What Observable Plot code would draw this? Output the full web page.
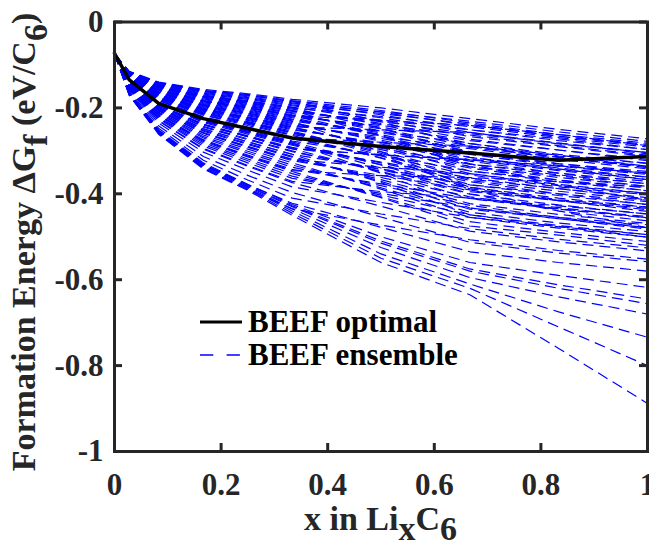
<!DOCTYPE html>
<html><head><meta charset="utf-8">
<script src="https://cdn.jsdelivr.net/npm/d3@7"></script>
<script src="https://cdn.jsdelivr.net/npm/@observablehq/plot@0.6"></script>
<style>
html,body{margin:0;padding:0;background:#fff;}
#chart{position:relative;width:649px;height:549px;overflow:hidden;}
</style></head><body><div id="chart"></div>
<script>
// Li fraction x in LixC6 at which the energies were computed
const xValues = [0, 0.0278, 0.0833, 0.1667, 0.25, 0.3333, 0.5, 0.6667, 0.8333, 1];
// BEEF optimal formation energy (eV/C6)
const optimal = [-0.073, -0.135, -0.190, -0.225, -0.248, -0.270, -0.290, -0.305, -0.322, -0.313];
// BEEF ensemble members (eV/C6), one row per member
const ensemble = [
  [-0.074,-0.115,-0.140,-0.157,-0.167,-0.180,-0.200,-0.225,-0.250,-0.272],
  [-0.074,-0.116,-0.142,-0.161,-0.171,-0.185,-0.210,-0.241,-0.266,-0.288],
  [-0.074,-0.117,-0.145,-0.164,-0.176,-0.190,-0.209,-0.231,-0.256,-0.278],
  [-0.074,-0.118,-0.147,-0.168,-0.180,-0.195,-0.223,-0.257,-0.282,-0.304],
  [-0.074,-0.119,-0.150,-0.172,-0.185,-0.200,-0.220,-0.244,-0.269,-0.291],
  [-0.074,-0.121,-0.152,-0.175,-0.189,-0.206,-0.236,-0.273,-0.298,-0.320],
  [-0.074,-0.122,-0.154,-0.179,-0.194,-0.211,-0.229,-0.251,-0.276,-0.297],
  [-0.074,-0.123,-0.157,-0.183,-0.198,-0.216,-0.249,-0.289,-0.314,-0.336],
  [-0.074,-0.124,-0.159,-0.186,-0.203,-0.221,-0.241,-0.263,-0.288,-0.310],
  [-0.074,-0.125,-0.162,-0.190,-0.207,-0.226,-0.262,-0.305,-0.330,-0.352],
  [-0.074,-0.126,-0.164,-0.194,-0.212,-0.231,-0.255,-0.283,-0.308,-0.329],
  [-0.074,-0.127,-0.166,-0.197,-0.216,-0.236,-0.275,-0.321,-0.346,-0.367],
  [-0.074,-0.128,-0.169,-0.201,-0.221,-0.241,-0.267,-0.295,-0.320,-0.342],
  [-0.074,-0.129,-0.171,-0.205,-0.225,-0.246,-0.288,-0.337,-0.362,-0.383],
  [-0.074,-0.130,-0.174,-0.208,-0.229,-0.251,-0.281,-0.315,-0.340,-0.361],
  [-0.074,-0.132,-0.176,-0.212,-0.234,-0.257,-0.302,-0.353,-0.378,-0.399],
  [-0.074,-0.133,-0.178,-0.216,-0.238,-0.262,-0.294,-0.331,-0.356,-0.377],
  [-0.074,-0.134,-0.182,-0.221,-0.245,-0.269,-0.316,-0.369,-0.394,-0.415],
  [-0.074,-0.136,-0.186,-0.227,-0.252,-0.277,-0.310,-0.347,-0.372,-0.393],
  [-0.074,-0.138,-0.189,-0.232,-0.258,-0.285,-0.332,-0.385,-0.410,-0.431],
  [-0.074,-0.139,-0.193,-0.238,-0.265,-0.292,-0.326,-0.363,-0.388,-0.409],
  [-0.074,-0.141,-0.196,-0.243,-0.272,-0.300,-0.348,-0.401,-0.426,-0.447],
  [-0.074,-0.143,-0.200,-0.249,-0.279,-0.308,-0.342,-0.379,-0.404,-0.425],
  [-0.074,-0.144,-0.204,-0.254,-0.285,-0.315,-0.367,-0.423,-0.448,-0.469],
  [-0.074,-0.146,-0.207,-0.259,-0.292,-0.323,-0.357,-0.391,-0.416,-0.437],
  [-0.074,-0.148,-0.212,-0.267,-0.301,-0.333,-0.386,-0.443,-0.468,-0.488],
  [-0.074,-0.150,-0.217,-0.274,-0.310,-0.343,-0.377,-0.411,-0.436,-0.456],
  [-0.074,-0.152,-0.222,-0.281,-0.319,-0.353,-0.407,-0.465,-0.490,-0.511],
  [-0.074,-0.155,-0.226,-0.289,-0.328,-0.364,-0.399,-0.433,-0.458,-0.479],
  [-0.074,-0.157,-0.231,-0.296,-0.336,-0.374,-0.429,-0.487,-0.512,-0.533],
  [-0.074,-0.159,-0.236,-0.303,-0.345,-0.384,-0.420,-0.455,-0.480,-0.501],
  [-0.074,-0.162,-0.242,-0.313,-0.357,-0.397,-0.454,-0.513,-0.538,-0.558],
  [-0.074,-0.165,-0.248,-0.322,-0.368,-0.410,-0.447,-0.481,-0.506,-0.526],
  [-0.074,-0.167,-0.254,-0.331,-0.379,-0.422,-0.478,-0.535,-0.560,-0.580],
  [-0.074,-0.170,-0.260,-0.340,-0.390,-0.435,-0.473,-0.507,-0.532,-0.552],
  [-0.074,-0.143,-0.200,-0.249,-0.279,-0.308,-0.374,-0.449,-0.474,-0.495],
  [-0.074,-0.132,-0.176,-0.212,-0.234,-0.257,-0.310,-0.390,-0.440,-0.479],
  [-0.074,-0.151,-0.218,-0.276,-0.312,-0.346,-0.358,-0.362,-0.372,-0.385],
  [-0.074,-0.123,-0.158,-0.184,-0.200,-0.218,-0.265,-0.330,-0.380,-0.415],
  [-0.074,-0.140,-0.194,-0.239,-0.267,-0.295,-0.310,-0.320,-0.335,-0.352],
  [-0.074,-0.156,-0.230,-0.294,-0.334,-0.371,-0.395,-0.410,-0.428,-0.447],
  [-0.074,-0.137,-0.188,-0.230,-0.256,-0.282,-0.340,-0.400,-0.440,-0.463],
  [-0.074,-0.116,-0.141,-0.159,-0.169,-0.183,-0.206,-0.235,-0.262,-0.282],
  [-0.074,-0.117,-0.144,-0.162,-0.174,-0.188,-0.216,-0.251,-0.272,-0.297],
  [-0.074,-0.118,-0.146,-0.166,-0.178,-0.193,-0.213,-0.238,-0.266,-0.285],
  [-0.074,-0.119,-0.148,-0.170,-0.183,-0.198,-0.229,-0.267,-0.290,-0.313],
  [-0.074,-0.120,-0.151,-0.173,-0.187,-0.203,-0.239,-0.283,-0.312,-0.329],
  [-0.074,-0.121,-0.153,-0.177,-0.192,-0.208,-0.232,-0.260,-0.282,-0.307],
  [-0.074,-0.122,-0.156,-0.181,-0.196,-0.213,-0.254,-0.302,-0.330,-0.348],
  [-0.074,-0.123,-0.158,-0.184,-0.200,-0.218,-0.245,-0.276,-0.298,-0.323],
  [-0.074,-0.124,-0.160,-0.188,-0.205,-0.223,-0.265,-0.315,-0.344,-0.361],
  [-0.074,-0.125,-0.163,-0.192,-0.209,-0.228,-0.258,-0.292,-0.315,-0.339],
  [-0.074,-0.127,-0.165,-0.195,-0.214,-0.234,-0.278,-0.331,-0.352,-0.377],
  [-0.074,-0.128,-0.168,-0.199,-0.218,-0.239,-0.271,-0.308,-0.336,-0.355],
  [-0.074,-0.129,-0.170,-0.203,-0.223,-0.244,-0.291,-0.347,-0.368,-0.393],
  [-0.074,-0.130,-0.172,-0.206,-0.227,-0.249,-0.284,-0.324,-0.352,-0.371],
  [-0.074,-0.131,-0.175,-0.210,-0.232,-0.254,-0.306,-0.366,-0.388,-0.412],
  [-0.074,-0.132,-0.177,-0.214,-0.236,-0.259,-0.297,-0.340,-0.368,-0.386],
  [-0.074,-0.133,-0.180,-0.217,-0.241,-0.264,-0.317,-0.379,-0.400,-0.425],
  [-0.074,-0.135,-0.183,-0.223,-0.247,-0.272,-0.312,-0.356,-0.384,-0.402],
  [-0.074,-0.136,-0.187,-0.228,-0.254,-0.279,-0.333,-0.395,-0.416,-0.441],
  [-0.074,-0.138,-0.190,-0.234,-0.261,-0.287,-0.328,-0.372,-0.400,-0.418],
  [-0.074,-0.140,-0.194,-0.239,-0.267,-0.295,-0.349,-0.411,-0.432,-0.456],
  [-0.074,-0.141,-0.198,-0.245,-0.274,-0.302,-0.344,-0.388,-0.416,-0.434],
  [-0.074,-0.144,-0.202,-0.252,-0.283,-0.313,-0.371,-0.436,-0.458,-0.482],
  [-0.074,-0.145,-0.206,-0.258,-0.290,-0.320,-0.362,-0.407,-0.435,-0.453],
  [-0.074,-0.147,-0.210,-0.263,-0.296,-0.328,-0.389,-0.455,-0.476,-0.501],
  [-0.074,-0.149,-0.214,-0.270,-0.305,-0.338,-0.381,-0.427,-0.455,-0.472],
  [-0.074,-0.151,-0.219,-0.278,-0.314,-0.348,-0.409,-0.475,-0.496,-0.520],
  [-0.074,-0.154,-0.224,-0.285,-0.323,-0.359,-0.403,-0.449,-0.477,-0.495],
  [-0.074,-0.116,-0.142,-0.161,-0.171,-0.185,-0.232,-0.289,-0.318,-0.336],
  [-0.074,-0.121,-0.152,-0.175,-0.189,-0.206,-0.265,-0.337,-0.358,-0.383],
  [-0.074,-0.126,-0.164,-0.194,-0.212,-0.231,-0.302,-0.385,-0.414,-0.431],
  [-0.074,-0.134,-0.182,-0.221,-0.245,-0.269,-0.280,-0.289,-0.310,-0.336],
  [-0.074,-0.129,-0.170,-0.203,-0.223,-0.244,-0.251,-0.257,-0.284,-0.304],
  [-0.074,-0.140,-0.194,-0.239,-0.267,-0.295,-0.309,-0.321,-0.342,-0.367],
  [-0.074,-0.145,-0.206,-0.258,-0.290,-0.320,-0.338,-0.353,-0.381,-0.399],
  [-0.074,-0.123,-0.158,-0.184,-0.200,-0.218,-0.229,-0.241,-0.262,-0.288],
  [-0.074,-0.119,-0.150,-0.172,-0.185,-0.200,-0.248,-0.305,-0.334,-0.352],
  [-0.074,-0.137,-0.188,-0.230,-0.256,-0.282,-0.352,-0.433,-0.455,-0.479],
  [-0.074,-0.165,-0.252,-0.328,-0.378,-0.425,-0.500,-0.560,-0.590,-0.618],
  [-0.074,-0.166,-0.254,-0.331,-0.381,-0.428,-0.510,-0.575,-0.612,-0.645],
  [-0.074,-0.167,-0.255,-0.333,-0.383,-0.430,-0.515,-0.580,-0.620,-0.656],
  [-0.074,-0.168,-0.257,-0.335,-0.385,-0.435,-0.525,-0.595,-0.640,-0.680],
  [-0.074,-0.169,-0.258,-0.337,-0.387,-0.440,-0.540,-0.610,-0.675,-0.734],
  [-0.074,-0.170,-0.260,-0.340,-0.390,-0.445,-0.550,-0.620,-0.710,-0.800],
  [-0.074,-0.171,-0.262,-0.342,-0.392,-0.450,-0.560,-0.635,-0.760,-0.888]
];
const xTicks = [0, 0.2, 0.4, 0.6, 0.8, 1];
const yTicks = [-1, -0.8, -0.6, -0.4, -0.2, 0];
const legendLabels = ["BEEF optimal", "BEEF ensemble"];

const W = 649, H = 549, mL = 114, mR = 2, mT = 21.5, mB = 98;
const plotW = W - mL - mR, plotH = H - mT - mB;
const FONT = "'Liberation Serif','Times New Roman',Times,serif";
const AX = "#262626";

const optRows = xValues.map((x, j) => ({x, y: optimal[j]}));
const ensRows = ensemble.flatMap((vals, i) => vals.map((v, j) => ({member: i, x: xValues[j], y: v})));

const chart = Plot.plot({
  width: W, height: H,
  marginLeft: mL, marginRight: mR, marginTop: mT, marginBottom: mB,
  style: {fontFamily: FONT, fontWeight: "bold", fontSize: "31px", color: AX, background: "#fff", overflow: "visible"},
  x: {domain: [0, 1]},
  y: {domain: [-1, 0]},
  marks: [
    Plot.line(ensRows, {x: "x", y: "y", z: "member", stroke: "#0000ff", strokeWidth: 1.2,
      strokeDasharray: "11,6", strokeLinecap: "butt", strokeLinejoin: "miter"}),
    Plot.line(optRows, {x: "x", y: "y", stroke: "#000", strokeWidth: 3.5}),
    Plot.frame({stroke: AX, strokeWidth: 3}),
    Plot.tickX(xTicks, {x: d => d, stroke: AX, strokeWidth: 3, insetTop: plotH - 8}),
    Plot.tickX(xTicks, {x: d => d, stroke: AX, strokeWidth: 3, insetBottom: plotH - 8}),
    Plot.tickY(yTicks, {y: d => d, stroke: AX, strokeWidth: 3, insetRight: plotW - 8}),
    Plot.tickY(yTicks, {y: d => d, stroke: AX, strokeWidth: 3, insetLeft: plotW - 8}),
    Plot.axisX({ticks: xTicks, tickSize: 0, tickPadding: 21, tickFormat: d => String(d), label: null, fontSize: 31, fill: AX}),
    Plot.axisY({ticks: yTicks, tickSize: 0, tickPadding: 11, tickFormat: d => String(d), label: null, fontSize: 31, fill: AX})
  ]
});
document.getElementById("chart").appendChild(chart);

const svg = d3.select(chart);
svg.selectAll('g[aria-label="x-axis tick label"], g[aria-label="y-axis tick label"]')
  .attr("font-size", 31).style("font-size", "31px");
// x-axis label
const xl = svg.append("text").attr("x", mL + plotW / 2).attr("y", 530)
  .attr("text-anchor", "middle").attr("font-family", FONT).attr("font-weight", "bold")
  .style("font-size", "34px").attr("fill", AX);
xl.append("tspan").text("x in Li");
xl.append("tspan").attr("dy", "0.3em").text("x");
xl.append("tspan").attr("dy", "-0.3em").text("C");
xl.append("tspan").attr("dy", "0.3em").text("6");
// y-axis label
const yl = svg.append("text").attr("transform", `translate(35,242) rotate(-90)`)
  .attr("text-anchor", "middle").attr("font-family", FONT).attr("font-weight", "bold")
  .style("font-size", "34px").attr("fill", AX);
yl.append("tspan").text("Formation Energy \u0394G");
yl.append("tspan").attr("dy", "0.35em").text("f");
yl.append("tspan").attr("dy", "-0.35em").text(" (eV/C");
yl.append("tspan").attr("dy", "0.35em").text("6");
yl.append("tspan").attr("dy", "-0.35em").text(")");
// legend
const lg = svg.append("g").attr("font-family", FONT).attr("font-weight", "bold")
  .style("font-size", "31px").attr("text-anchor", "start");
lg.append("line").attr("x1", 200).attr("x2", 242).attr("y1", 322).attr("y2", 322)
  .attr("stroke", "#000").attr("stroke-width", 3);
lg.append("line").attr("x1", 200).attr("x2", 242).attr("y1", 355).attr("y2", 355)
  .attr("stroke", "#0000ff").attr("stroke-width", 1.5).attr("stroke-dasharray", "13.3,13.3");
lg.append("text").attr("x", 248).attr("y", 332).attr("fill", "#000").text(legendLabels[0]);
lg.append("text").attr("x", 248).attr("y", 365).attr("fill", "#000").text(legendLabels[1]);
</script></body></html>
